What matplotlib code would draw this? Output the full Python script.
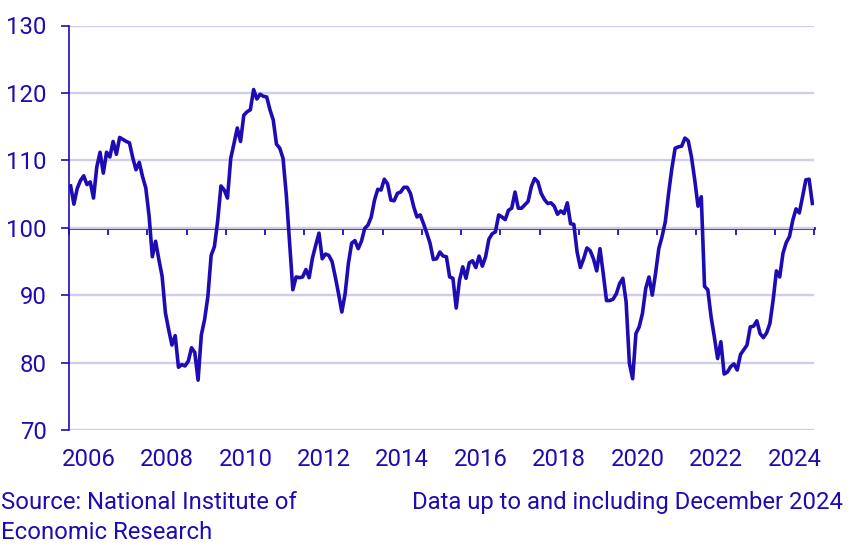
import matplotlib
matplotlib.use("Agg")
import matplotlib.pyplot as plt
import numpy as np

# ---------------- data (monthly, Jan 2006 - Dec 2024) ----------------
start_year = 2006
end_year = 2024
v2006 = [106.2, 103.5, 105.8, 107.0, 107.7, 106.4, 106.8, 104.4, 109.0, 111.2, 108.1, 111.2]
v2007 = [110.5, 112.8, 110.9, 113.4, 113.1, 112.8, 112.6, 110.4, 108.6, 109.7, 107.6, 105.9]
v2008 = [101.8, 95.7, 98.0, 95.3, 92.8, 87.4, 84.9, 82.6, 84.0, 79.3, 79.7, 79.5]
v2009 = [80.2, 82.2, 81.5, 77.4, 84.1, 86.4, 89.8, 95.9, 97.2, 101.0, 106.2, 105.6]
v2010 = [104.4, 110.3, 112.5, 114.8, 112.8, 116.7, 117.2, 117.5, 120.5, 119.1, 119.8, 119.5]
v2011 = [119.4, 117.5, 116.0, 112.4, 111.8, 110.3, 104.9, 97.8, 90.8, 92.7, 92.6, 92.7]
v2012 = [93.8, 92.6, 95.5, 97.4, 99.2, 95.4, 96.1, 95.9, 95.0, 92.7, 90.2, 87.5]
v2013 = [90.2, 94.7, 97.7, 98.1, 96.9, 98.0, 99.9, 100.4, 101.6, 104.1, 105.7, 105.6]
v2014 = [107.2, 106.5, 104.1, 104.0, 105.1, 105.3, 106.0, 106.0, 105.1, 103.1, 101.6, 101.9]
v2015 = [100.6, 99.2, 97.7, 95.3, 95.4, 96.4, 95.8, 95.7, 92.7, 92.5, 88.1, 92.2]
v2016 = [94.2, 92.5, 94.8, 95.1, 94.1, 95.8, 94.3, 95.7, 98.3, 99.1, 99.4, 101.9]
v2017 = [101.6, 101.2, 102.6, 102.9, 105.3, 102.9, 102.9, 103.4, 103.9, 106.1, 107.3, 106.8]
v2018 = [105.1, 104.2, 103.6, 103.7, 103.2, 102.0, 102.5, 102.1, 103.7, 100.6, 100.5, 96.4]
v2019 = [94.1, 95.4, 97.0, 96.6, 95.4, 93.6, 96.9, 93.2, 89.2, 89.2, 89.4, 90.2]
v2020 = [91.7, 92.5, 89.0, 79.9, 77.6, 84.3, 85.3, 87.3, 91.0, 92.7, 90.0, 93.2]
v2021 = [96.9, 98.7, 100.9, 105.1, 108.8, 111.8, 112.0, 112.1, 113.3, 112.9, 110.5, 107.1]
v2022 = [103.2, 104.6, 91.3, 90.8, 86.8, 83.8, 80.6, 83.1, 78.3, 78.6, 79.4, 79.8]
v2023 = [78.9, 81.2, 81.9, 82.6, 85.3, 85.4, 86.2, 84.3, 83.7, 84.4, 85.8, 89.3]
v2024 = [93.6, 92.7, 96.2, 97.8, 98.7, 101.1, 102.8, 102.2, 104.6, 107.1, 107.2, 103.6]

values = (v2006 + v2007 + v2008 + v2009 + v2010 + v2011 + v2012 + v2013 + v2014 + v2015
          + v2016 + v2017 + v2018 + v2019 + v2020 + v2021 + v2022 + v2023 + v2024)
year_labels = [str(y) for y in range(2006, 2025, 2)]
y_ticks = [70, 80, 90, 100, 110, 120, 130]
source_text = "Source: National Institute of\nEconomic Research"
note_text = "Data up to and including December 2024"

# ---------------- style ----------------
BLUE = "#1d0cb4"
GRID = "#cfcdee"
plt.rcParams["font.family"] = ["Roboto", "DejaVu Sans"]
FS = 17.2

W, H = 851, 549
fig = plt.figure(figsize=(W / 100, H / 100), dpi=100)
ax = fig.add_axes([69 / W, 1 - 430 / H, (814 - 69) / W, (430 - 25.5) / H])

x = np.arange(len(values)) / 12.0 + start_year + 0.5 / 12.0
ax.plot(x, values, color=BLUE, lw=2.6, solid_joinstyle="round", zorder=4)

ax.set_xlim(start_year, end_year + 1)
ax.set_ylim(70, 130)

# y axis
ax.set_yticks(y_ticks)
ax.yaxis.grid(True, color=GRID, lw=1.7, zorder=0)
ax.set_axisbelow(True)
ax.tick_params(axis="y", colors=BLUE, labelcolor=BLUE, labelsize=FS,
               length=6, width=1.2, pad=10)
for s in ["top", "right", "bottom"]:
    ax.spines[s].set_visible(False)
ax.spines["left"].set_color(BLUE)
ax.spines["left"].set_linewidth(1.2)

# bottom labels at mid-year
label_pos = [int(l) + 0.5 for l in year_labels]
ax.set_xticks(label_pos)
ax.set_xticklabels(year_labels)
ax.tick_params(axis="x", length=0, labelsize=FS, labelcolor=BLUE, pad=13)

# 100 line with yearly ticks
sec = ax.secondary_xaxis(100, transform=ax.transData)
sec.set_alignment("bottom")
sec.set_xticks(np.arange(start_year, end_year + 2))
sec.set_xticklabels([])
sec.tick_params(axis="x", direction="out", length=5, width=1.3, colors=BLUE)
sec.spines["bottom"].set_color(BLUE)
sec.spines["bottom"].set_linewidth(2.0)

fig.text(1 / W, 1 - 491 / H, source_text, ha="left", va="top",
         fontsize=FS, color=BLUE, linespacing=1.38)
fig.text(843 / W, 1 - 491 / H, note_text, ha="right", va="top",
         fontsize=FS, color=BLUE)

fig.savefig("out.png", dpi=100)
